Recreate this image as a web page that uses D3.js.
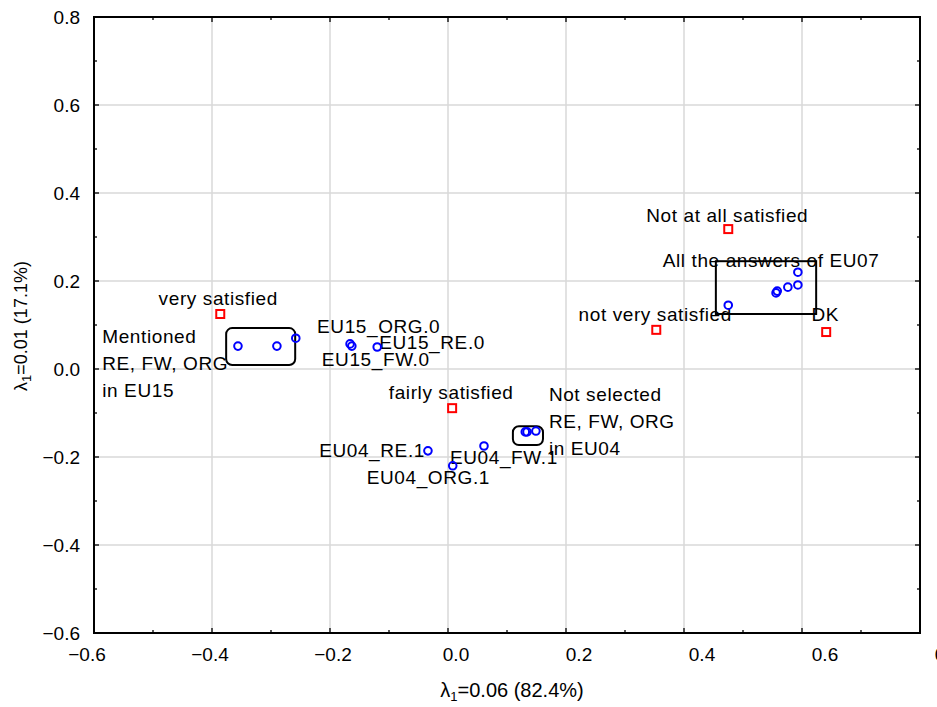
<!DOCTYPE html>
<html>
<head>
<meta charset="utf-8">
<script src="https://cdn.jsdelivr.net/npm/d3@7"></script>
<style>
  html, body { margin: 0; padding: 0; background: #fff; }
  text { font-family: "Liberation Sans", Arial, sans-serif; }
</style>
</head>
<body>
<div id="chart"></div>
<script>
// row points (satisfaction answers) - red squares
const rowNames = ['very satisfied', 'fairly satisfied', 'not very satisfied', 'Not at all satisfied', 'DK'];
const rowX = [-0.386, 0.007, 0.353, 0.475, 0.641];
const rowY = [0.125, -0.089, 0.089, 0.318, 0.084];

// column points (EU items) - blue circles
const colNames = [
  'EU15_RE.1', 'EU15_FW.1', 'EU15_ORG.1',
  'EU15_ORG.0', 'EU15_FW.0', 'EU15_RE.0',
  'EU04_RE.1', 'EU04_ORG.1', 'EU04_FW.1',
  'EU04_RE.0', 'EU04_FW.0', 'EU04_ORG.0',
  'EU07_1', 'EU07_2', 'EU07_3', 'EU07_4', 'EU07_5', 'EU07_6'
];
const colX = [-0.356, -0.290, -0.258, -0.166, -0.163, -0.120, -0.034, 0.008, 0.061,
  0.131, 0.134, 0.149, 0.475, 0.556, 0.558, 0.576, 0.593, 0.593];
const colY = [0.052, 0.052, 0.070, 0.057, 0.052, 0.050, -0.186, -0.220, -0.175,
  -0.143, -0.143, -0.141, 0.145, 0.173, 0.177, 0.186, 0.191, 0.220];
const colLabelled = ['EU15_ORG.0', 'EU15_FW.0', 'EU15_RE.0', 'EU04_RE.1', 'EU04_ORG.1', 'EU04_FW.1'];

// group boxes (data units) and their notes
const boxX0 = [-0.376, 0.110, 0.454];
const boxX1 = [-0.259, 0.161, 0.624];
const boxY0 = [0.009, -0.173, 0.125];
const boxY1 = [0.093, -0.130, 0.245];
const boxRound = [true, true, false];
const noteLines = [['Mentioned', 'RE, FW, ORG', 'in EU15'], ['Not selected', 'RE, FW, ORG', 'in EU04'], ['All the answers of EU07']];
const noteX = [-0.586, 0.171, 0.364];
const noteY = [0.059, -0.073, 0.232];

const tickValues = [-0.6, -0.4, -0.2, 0.0, 0.2, 0.4, 0.6, 0.8];
const xTitle = ['λ', '1', '=0.06 (82.4%)'];
const yTitle = ['λ', '1', '=0.01 (17.1%)'];

// label offsets in pixels from the point
const labelPos = {
  'very satisfied': [-2, -9, 'middle'],
  'fairly satisfied': [-1, -9, 'middle'],
  'not very satisfied': [-1, -9, 'middle'],
  'Not at all satisfied': [-1, -7, 'middle'],
  'DK': [-1, -11, 'middle'],
  'EU15_ORG.0': [-33, -11, 'start'],
  'EU15_FW.0': [-30, 20, 'start'],
  'EU15_RE.0': [2, 2, 'start'],
  'EU04_RE.1': [-3, 6, 'end'],
  'EU04_ORG.1': [-86, 18, 'start'],
  'EU04_FW.1': [-34, 18, 'start']
};

const width = 937;
const height = 707;
const fontSize = 19;

const svg = d3.select('#chart')
  .append('svg')
  .attr('width', width)
  .attr('height', height);

const x = d3.scaleLinear().domain([-0.6, 0.8]).range([94, 920]);
const y = d3.scaleLinear().domain([-0.6, 0.8]).range([633, 17]);
// tick labels in the original are spread a bit wider than the grid
const xLab = d3.scaleLinear().domain([-0.6, 0.8]).range([87, 948]);

// grid
svg.append('g')
  .selectAll('line')
  .data(tickValues)
  .join('line')
  .attr('x1', (d) => x(d)).attr('x2', (d) => x(d))
  .attr('y1', y(0.8)).attr('y2', y(-0.6))
  .attr('stroke', '#d9d9d9').attr('stroke-width', 1.5);
svg.append('g')
  .selectAll('line')
  .data(tickValues)
  .join('line')
  .attr('y1', (d) => y(d)).attr('y2', (d) => y(d))
  .attr('x1', x(-0.6)).attr('x2', x(0.8))
  .attr('stroke', '#d9d9d9').attr('stroke-width', 1.5);

// inner ticks on all sides
const allTicks = d3.range(15).map((i) => ({ v: -0.6 + i * 0.1, major: i % 2 === 0 }));
const tk = svg.append('g').attr('stroke', '#000').attr('stroke-width', 1.3);
allTicks.forEach((t) => {
  const len = t.major ? 5 : 3;
  tk.append('line').attr('x1', x(t.v)).attr('x2', x(t.v)).attr('y1', y(-0.6)).attr('y2', y(-0.6) - len);
  tk.append('line').attr('x1', x(t.v)).attr('x2', x(t.v)).attr('y1', y(0.8)).attr('y2', y(0.8) + len);
  tk.append('line').attr('y1', y(t.v)).attr('y2', y(t.v)).attr('x1', x(-0.6)).attr('x2', x(-0.6) + len);
  tk.append('line').attr('y1', y(t.v)).attr('y2', y(t.v)).attr('x1', x(0.8)).attr('x2', x(0.8) - len);
});

// tick labels
svg.append('g')
  .selectAll('text')
  .data(tickValues)
  .join('text')
  .attr('x', (d) => xLab(d))
  .attr('y', 661)
  .attr('text-anchor', 'middle')
  .attr('font-size', fontSize)
  .text((d) => d3.format('.1f')(d));
svg.append('g')
  .selectAll('text')
  .data(tickValues)
  .join('text')
  .attr('x', 80)
  .attr('y', (d) => y(d))
  .attr('dy', '0.36em')
  .attr('text-anchor', 'end')
  .attr('font-size', fontSize)
  .text((d) => d3.format('.1f')(d));

// axis titles
function title(g, parts) {
  g.append('tspan').text(parts[0]);
  g.append('tspan').attr('font-size', 13).attr('dy', 4).text(parts[1]);
  g.append('tspan').attr('dy', -4).text(parts[2]);
}
title(svg.append('text')
  .attr('x', 512).attr('y', 697)
  .attr('text-anchor', 'middle')
  .attr('font-size', 20), xTitle);
title(svg.append('text')
  .attr('transform', 'translate(27,326) rotate(-90)')
  .attr('text-anchor', 'middle')
  .attr('font-size', 18), yTitle);

// group boxes
svg.append('g')
  .selectAll('rect')
  .data(boxX0.map((d, i) => i))
  .join('rect')
  .attr('x', (i) => x(boxX0[i]))
  .attr('y', (i) => y(boxY1[i]))
  .attr('width', (i) => x(boxX1[i]) - x(boxX0[i]))
  .attr('height', (i) => y(boxY0[i]) - y(boxY1[i]))
  .attr('rx', (i) => (boxRound[i] ? 6 : 0))
  .attr('fill', 'none')
  .attr('stroke', '#000')
  .attr('stroke-width', 2);

// notes
noteLines.forEach((lines, i) => {
  const t = svg.append('text')
    .attr('x', x(noteX[i]))
    .attr('y', y(noteY[i]))
    .attr('font-size', fontSize)
    .attr('letter-spacing', 0.6);
  lines.forEach((line, j) => {
    t.append('tspan').attr('x', x(noteX[i])).attr('dy', j === 0 ? 0 : 27).text(line);
  });
});

// point labels
const labelled = rowNames.map((n, i) => ({ n, vx: rowX[i], vy: rowY[i] }))
  .concat(colNames.map((n, i) => ({ n, vx: colX[i], vy: colY[i] }))
    .filter((d) => colLabelled.includes(d.n)));
svg.append('g')
  .selectAll('text')
  .data(labelled)
  .join('text')
  .attr('x', (d) => x(d.vx) + labelPos[d.n][0])
  .attr('y', (d) => y(d.vy) + labelPos[d.n][1])
  .attr('text-anchor', (d) => labelPos[d.n][2])
  .attr('font-size', fontSize)
  .attr('letter-spacing', 0.6)
  .text((d) => d.n);

// markers
svg.append('g')
  .selectAll('circle')
  .data(colNames.map((n, i) => i))
  .join('circle')
  .attr('cx', (i) => x(colX[i]))
  .attr('cy', (i) => y(colY[i]))
  .attr('r', 3.8)
  .attr('fill', 'none')
  .attr('stroke', '#0000ff')
  .attr('stroke-width', 2);
svg.append('g')
  .selectAll('rect')
  .data(rowNames.map((n, i) => i))
  .join('rect')
  .attr('x', (i) => x(rowX[i]) - 4)
  .attr('y', (i) => y(rowY[i]) - 4)
  .attr('width', 8)
  .attr('height', 8)
  .attr('fill', 'none')
  .attr('stroke', '#ff0000')
  .attr('stroke-width', 2);

// frame
svg.append('rect')
  .attr('x', x(-0.6)).attr('y', y(0.8))
  .attr('width', x(0.8) - x(-0.6))
  .attr('height', y(-0.6) - y(0.8))
  .attr('fill', 'none')
  .attr('stroke', '#000')
  .attr('stroke-width', 2);
</script>
</body>
</html>
